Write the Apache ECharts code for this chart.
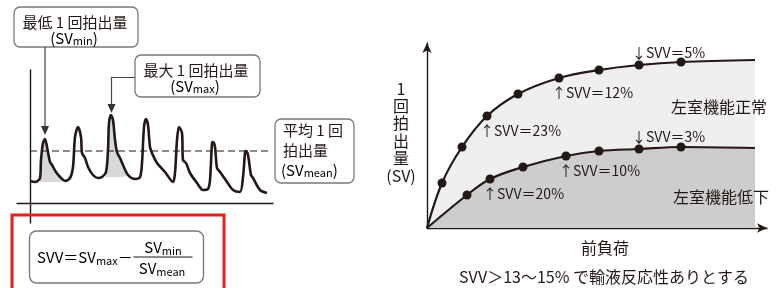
<!DOCTYPE html>
<html><head><meta charset="utf-8">
<script src="https://cdn.jsdelivr.net/npm/echarts@6/dist/echarts.min.js"></script>
<style>html,body{margin:0;padding:0;background:#fff}#c{width:776px;height:288px}</style>
</head><body><div id="c"></div>
<script>
// ---------- data ----------
// left: arterial waveform (time, pressure)
const waveT = [0,5,10,11,13,15,17,20,22,26,31,35,40,43,45,48,51,52,55,58,63,68,72,76,78,79,81,83,85,87,90,93,98,105,110,112,114,116,118,120,122,127,135,143,145,147,149,152,153,156,160,167,173,178,180,182,183,185,187,190,197,203,210,213,215,216,218,221,223,230,237];
const waveP = [22,21,25,43,60,64,56,41,38,31,25,22,25,36,66,76,66,50,45,36,28,25,26,31,53,80,88,83,63,51,45,38,28,24,26,40,76,84,78,56,50,40,31,21,30,63,76,70,43,40,30,20,13,14,23,60,61,56,35,31,21,13,11,26,50,52,48,28,25,13,10];
const meanLevel = 52;
const meanRange = [0, 242];
// shaded beats: [tStart, tEnd, baseline]
const shadeBeats = [[10, 35, 21], [76, 100, 26]];

// right: Frank-Starling curves (preload, SV)
const normalPreload = [15, 35, 60, 91, 132, 172, 212, 254];
const normalSV      = [45, 81, 112, 134, 150, 158, 163, 166];
const normalEnd = [328, 168];
const lowPreload = [40, 63, 96, 139, 172, 212, 254];
const lowSV      = [33, 49, 61, 72, 77, 79, 81];
const lowEnd = [328, 80];
const normalLabels = ['', '', '↑SVV＝23%', '', '↑SVV＝12%', '', '↓SVV＝5%', ''];
const lowLabels    = ['', '↑SVV＝20%', '', '↑SVV＝10%', '', '↓SVV＝3%', ''];

const FONT = '"Noto Sans CJK JP", "Noto Sans", sans-serif';
const INK = '#231815';

// ---------- build ----------
const wave = waveT.map((t, i) => [t, waveP[i]]);
const shadeSeries = shadeBeats.map(b => ({
  type: 'line', xAxisIndex: 0, yAxisIndex: 0, smooth: 0.3, showSymbol: false, silent: true,
  data: wave.filter(p => p[0] >= b[0] && p[0] <= b[1]),
  lineStyle: { width: 0 }, areaStyle: { color: '#d8d8d8', opacity: 1, origin: b[2] }, z: 1
}));

function curve(xs, ys, end) {
  return [[0, 0]].concat(xs.map((x, i) => [x, ys[i]])).concat([end]);
}
function dots(xs, ys, labels) {
  return xs.map((x, i) => {
    const txt = labels[i];
    const d = { value: [x, ys[i]] };
    if (txt) {
      const up = txt[0] === '↓';
      d.label = {
        show: true, formatter: txt, position: up ? 'top' : 'bottom',
        distance: up ? 1 : 3, align: 'left', offset: [-7, 0],
        fontFamily: FONT, fontSize: 14, color: INK, opacity: 1
      };
    }
    return d;
  });
}

const sub = (fs) => ({ fontSize: fs, fontFamily: FONT, color: INK, verticalAlign: 'bottom', lineHeight: 10 });
const main = (fs, lh) => ({ fontSize: fs, fontFamily: FONT, color: INK, lineHeight: lh });

const chart = echarts.init(document.getElementById('c'));
chart.setOption({
  animation: false,
  backgroundColor: '#fff',
  textStyle: { fontFamily: FONT },
  grid: [
    { left: 17, top: 70, width: 256, height: 153 },
    { left: 427, top: 43, width: 340, height: 185 }
  ],
  xAxis: [
    { gridIndex: 0, type: 'value', min: -13, max: 243,
      axisLine: { show: true, onZero: true, lineStyle: { color: INK, width: 1.4 } },
      axisTick: { show: false }, axisLabel: { show: false }, splitLine: { show: false } },
    { gridIndex: 1, type: 'value', min: 0, max: 340,
      axisLine: { show: true, symbol: ['none', 'arrow'], symbolSize: [7, 10], lineStyle: { color: INK, width: 1.4 } },
      axisTick: { show: false }, axisLabel: { show: false }, splitLine: { show: false } }
  ],
  yAxis: [
    { gridIndex: 0, type: 'value', min: -20, max: 133,
      axisLine: { show: true, onZero: true, lineStyle: { color: INK, width: 1.4 } },
      axisTick: { show: false }, axisLabel: { show: false }, splitLine: { show: false } },
    { gridIndex: 1, type: 'value', min: 0, max: 185,
      axisLine: { show: true, symbol: ['none', 'arrow'], symbolSize: [7, 10], lineStyle: { color: INK, width: 1.4 } },
      axisTick: { show: false }, axisLabel: { show: false }, splitLine: { show: false } }
  ],
  series: [
    ...shadeSeries,
    { type: 'line', xAxisIndex: 0, yAxisIndex: 0, showSymbol: false, silent: true,
      data: [[meanRange[0], meanLevel], [meanRange[1], meanLevel]],
      lineStyle: { color: INK, width: 1.2, type: [7, 4] }, z: 2 },
    { type: 'line', xAxisIndex: 0, yAxisIndex: 0, smooth: 0.3, showSymbol: false, silent: true,
      data: wave, lineStyle: { color: INK, width: 2.6 }, z: 3 },
    { type: 'line', xAxisIndex: 1, yAxisIndex: 1, smooth: 0.35, showSymbol: false, silent: true,
      data: curve(normalPreload, normalSV, normalEnd),
      lineStyle: { color: INK, width: 2.2 }, areaStyle: { color: '#efefef', opacity: 1 }, z: 2 },
    { type: 'line', xAxisIndex: 1, yAxisIndex: 1, smooth: 0.35, showSymbol: false, silent: true,
      data: curve(lowPreload, lowSV, lowEnd),
      lineStyle: { color: INK, width: 2.2 }, areaStyle: { color: '#cdcdcd', opacity: 1 }, z: 3 },
    { type: 'scatter', xAxisIndex: 1, yAxisIndex: 1, symbolSize: 9, silent: true,
      itemStyle: { color: INK, opacity: 1 }, data: dots(normalPreload, normalSV, normalLabels), z: 4 },
    { type: 'scatter', xAxisIndex: 1, yAxisIndex: 1, symbolSize: 9, silent: true,
      itemStyle: { color: INK, opacity: 1 }, data: dots(lowPreload, lowSV, lowLabels), z: 4 }
  ],
  graphic: [
    // callout 1
    { type: 'rect', shape: { x: 14, y: 7, width: 124, height: 40, r: 6 }, style: { fill: '#fff', stroke: '#7a7a7a', lineWidth: 1.3 }, z: 10 },
    { type: 'text', x: 75, y: 22, style: { text: '最低 1 回拍出量', font: '15px ' + FONT, fill: INK, align: 'center', verticalAlign: 'middle' }, z: 11 },
    { type: 'text', x: 74, y: 38, style: { text: '{m|(SV}{s|min}{m|)}', rich: { m: main(15, 16), s: sub(11) }, align: 'center', verticalAlign: 'middle' }, z: 11 },
    { type: 'line', shape: { x1: 45, y1: 47, x2: 45, y2: 128 }, style: { stroke: '#444', lineWidth: 1.2 }, z: 10 },
    { type: 'polygon', shape: { points: [[41, 126], [49, 126], [45, 135]] }, style: { fill: '#333' }, z: 10 },
    // callout 2
    { type: 'rect', shape: { x: 135, y: 55, width: 125, height: 42, r: 6 }, style: { fill: '#fff', stroke: '#7a7a7a', lineWidth: 1.3 }, z: 10 },
    { type: 'text', x: 196, y: 70, style: { text: '最大 1 回拍出量', font: '15px ' + FONT, fill: INK, align: 'center', verticalAlign: 'middle' }, z: 11 },
    { type: 'text', x: 195, y: 86, style: { text: '{m|(SV}{s|max}{m|)}', rich: { m: main(15, 16), s: sub(11) }, align: 'center', verticalAlign: 'middle' }, z: 11 },
    { type: 'polyline', shape: { points: [[135, 77.5], [111.5, 77.5], [111.5, 106]] }, style: { stroke: '#444', lineWidth: 1.2, fill: null }, z: 10 },
    { type: 'polygon', shape: { points: [[107.5, 104], [115.5, 104], [111.5, 113]] }, style: { fill: '#333' }, z: 10 },
    // callout 3
    { type: 'rect', shape: { x: 275, y: 119, width: 79, height: 64, r: 6 }, style: { fill: '#fff', stroke: '#7a7a7a', lineWidth: 1.3 }, z: 10 },
    { type: 'text', x: 283, y: 130, style: { text: '平均 1 回', font: '15px ' + FONT, fill: INK, align: 'left', verticalAlign: 'middle' }, z: 11 },
    { type: 'text', x: 283, y: 150, style: { text: '拍出量', font: '15px ' + FONT, fill: INK, align: 'left', verticalAlign: 'middle' }, z: 11 },
    { type: 'text', x: 281, y: 170, style: { text: '{m|(SV}{s|mean}{m|)}', rich: { m: main(15, 16), s: sub(11) }, align: 'left', verticalAlign: 'middle' }, z: 11 },
    // formula
    { type: 'rect', shape: { x: 12, y: 215, width: 212, height: 80 }, style: { fill: null, stroke: '#ee1c1c', lineWidth: 3 }, z: 10 },
    { type: 'rect', shape: { x: 29.5, y: 231, width: 174, height: 52, r: 7 }, style: { fill: '#fff', stroke: '#7a7a7a', lineWidth: 1.4 }, z: 10 },
    { type: 'text', x: 37, y: 257, style: { text: '{m|SVV＝SV}{s|max}{m|－}', rich: { m: main(15, 18), s: sub(11) }, align: 'left', verticalAlign: 'middle' }, z: 11 },
    { type: 'line', shape: { x1: 133.5, y1: 257, x2: 192.5, y2: 257 }, style: { stroke: INK, lineWidth: 1.2 }, z: 11 },
    { type: 'text', x: 163, y: 247, style: { text: '{m|SV}{s|min}', rich: { m: main(15, 18), s: sub(11) }, align: 'center', verticalAlign: 'middle' }, z: 11 },
    { type: 'text', x: 162, y: 268, style: { text: '{m|SV}{s|mean}', rich: { m: main(15, 18), s: sub(11) }, align: 'center', verticalAlign: 'middle' }, z: 11 },
    // right panel texts
    { type: 'text', x: 401, y: 132, style: { text: '1\n回\n拍\n出\n量\n(SV)', font: '16px ' + FONT, lineHeight: 17.4, fill: INK, align: 'center', verticalAlign: 'middle' }, z: 11 },
    { type: 'text', x: 719, y: 107, style: { text: '左室機能正常', font: '16px ' + FONT, fill: INK, align: 'center', verticalAlign: 'middle' }, z: 11 },
    { type: 'text', x: 721, y: 197, style: { text: '左室機能低下', font: '16px ' + FONT, fill: INK, align: 'center', verticalAlign: 'middle' }, z: 11 },
    { type: 'text', x: 605, y: 248, style: { text: '前負荷', font: '16px ' + FONT, fill: INK, align: 'center', verticalAlign: 'middle' }, z: 11 },
    { type: 'text', x: 604, y: 277, style: { text: 'SVV＞13～15% で輸液反応性ありとする', font: '16px ' + FONT, fill: INK, align: 'center', verticalAlign: 'middle' }, z: 11 }
  ]
});
</script></body></html>
